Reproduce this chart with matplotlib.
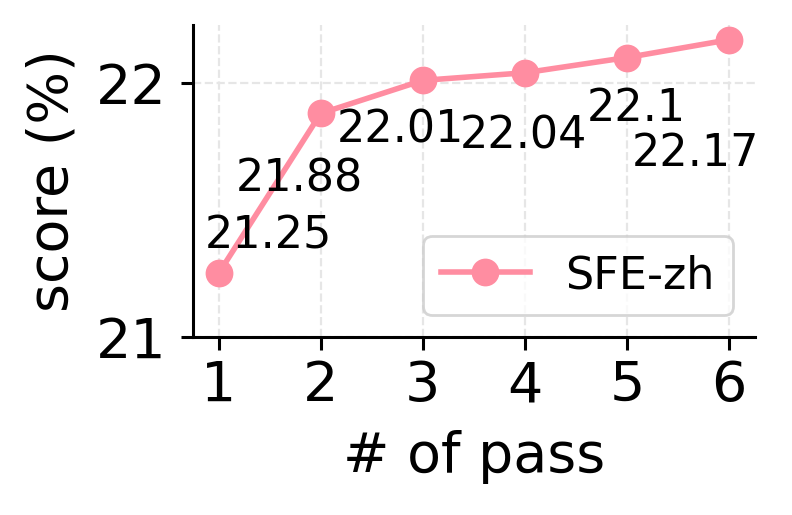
import matplotlib
matplotlib.use("Agg")
import matplotlib.pyplot as plt

# data
passes = [1, 2, 3, 4, 5, 6]
scores = [21.25, 21.88, 22.01, 22.04, 22.1, 22.17]
series_name = "SFE-zh"

# label offsets in points (layout only)
label_offsets = [(18, 9), (-7.6, -28), (-8, -22.5), (-0.4, -27.4), (3.2, -22.8), (-12, -45.4)]

fig = plt.figure(figsize=(3.96, 2.575), dpi=200)
ax = fig.add_axes([0.2437, 0.3456, 0.7093, 0.6059])

ax.plot(passes, scores, color="#ff8da1", marker="o", markersize=9,
        linewidth=2, label=series_name)

for x, y, off in zip(passes, scores, label_offsets):
    ax.annotate(f"{y:g}", (x, y), xytext=off, textcoords="offset points",
                ha="center", va="baseline", fontsize=16)

ax.set_ylim(21, 22.228)
ax.set_yticks([21, 22])
ax.set_xticks(passes)
ax.tick_params(labelsize=20, width=1.1, length=4.5)
ax.tick_params(axis="y", pad=5)
ax.set_xlabel("# of pass", fontsize=20, labelpad=6)
ax.set_ylabel("score (%)", fontsize=20, labelpad=6)
ax.grid(True, linestyle="--", color="#e6e6e6", linewidth=0.8)
for s in ["top", "right"]:
    ax.spines[s].set_visible(False)
for s in ["left", "bottom"]:
    ax.spines[s].set_linewidth(1.1)

ax.legend(loc="lower right", fontsize=16)

fig.savefig("out.png", dpi=200)
